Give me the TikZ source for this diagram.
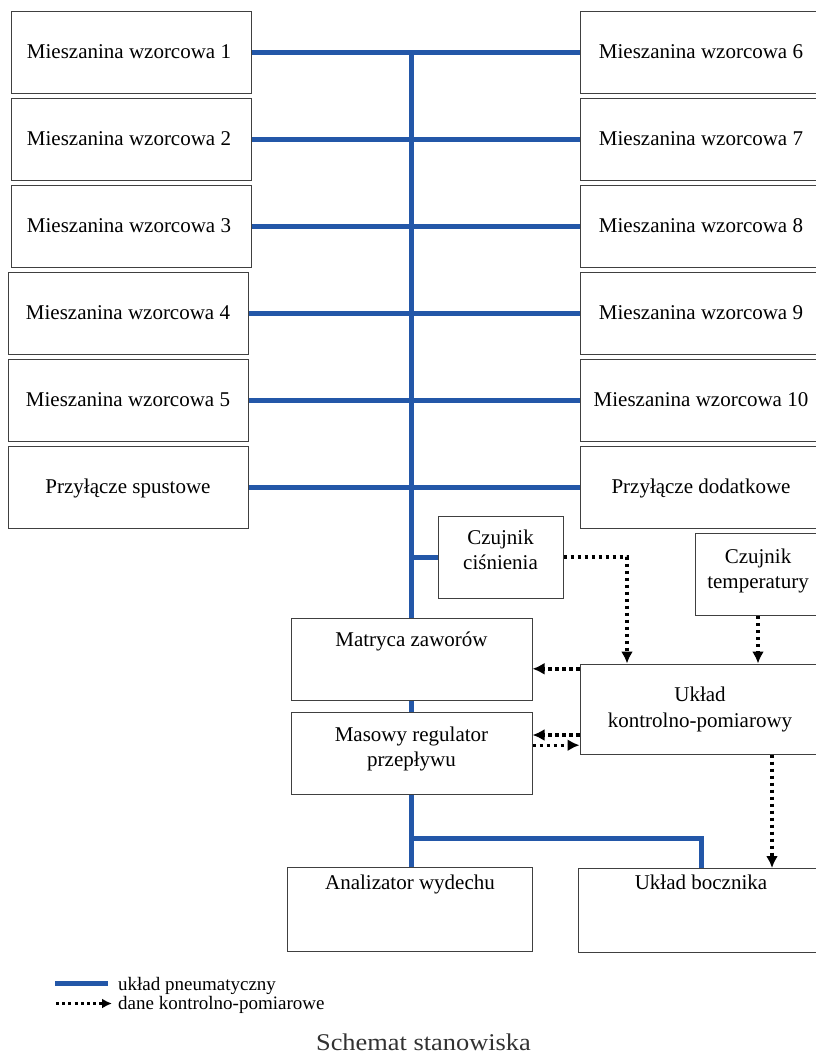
\documentclass[tikz,border=0pt]{standalone}
\usepackage{fontspec}
\setmainfont{Liberation Serif}
\newfontfamily\titlefont[FakeStretch=1.1]{Liberation Serif}
\usetikzlibrary{arrows.meta}
\definecolor{pneublue}{RGB}{35,87,168}
\definecolor{titlegray}{RGB}{50,50,50}

\begin{document}
\begin{tikzpicture}[x=1pt, y=1pt,
    box/.style={draw=black!75, line width=1pt, minimum width=240pt, minimum height=82pt, inner sep=0pt},
    txt/.style={anchor=base, inner sep=0pt, align=center, font=\fontsize{21}{25}\selectfont},
    legtxt/.style={anchor=base west, inner sep=0pt, font=\fontsize{19}{21}\selectfont},
    pneu/.style={draw=pneublue, line width=5pt},
    meas/.style={line width=3.4pt, dash pattern=on 3.4pt off 3.6pt, -{Latex[length=12pt,width=12pt]}}]

    \useasboundingbox (0,0) rectangle (816,-1057);



    \begin{scope}[yshift=-52.5pt]

      \node[box] (mix1) at (131,0) {};
      \node[txt] (mix1txt) at (129,-6) {Mieszanina wzorcowa 1};
      \node[box] (mix6) at (700,0) {};
      \node[txt] (mix6txt) at (701,-6) {Mieszanina wzorcowa 6};
      \draw[pneu] (mix1) -- (mix6);

    \end{scope}



    \begin{scope}[yshift=-139.5pt]

      \node[box] (mix2) at (131,0) {};
      \node[txt] (mix2txt) at (129,-6) {Mieszanina wzorcowa 2};
      \node[box] (mix7) at (700,0) {};
      \node[txt] (mix7txt) at (701,-6) {Mieszanina wzorcowa 7};
      \draw[pneu] (mix2) -- (mix7);

    \end{scope}



    \begin{scope}[yshift=-226.5pt]

      \node[box] (mix3) at (131,0) {};
      \node[txt] (mix3txt) at (129,-6) {Mieszanina wzorcowa 3};
      \node[box] (mix8) at (700,0) {};
      \node[txt] (mix8txt) at (701,-6) {Mieszanina wzorcowa 8};
      \draw[pneu] (mix3) -- (mix8);

    \end{scope}



    \begin{scope}[yshift=-313.5pt]

      \node[box] (mix4) at (128.5,0) {};
      \node[txt] (mix4txt) at (128,-6) {Mieszanina wzorcowa 4};
      \node[box] (mix9) at (700,0) {};
      \node[txt] (mix9txt) at (701,-6) {Mieszanina wzorcowa 9};
      \draw[pneu] (mix4) -- (mix9);

    \end{scope}



    \begin{scope}[yshift=-400.5pt]

      \node[box] (mix5) at (128.5,0) {};
      \node[txt] (mix5txt) at (128,-6) {Mieszanina wzorcowa 5};
      \node[box] (mix10) at (700,0) {};
      \node[txt] (mix10txt) at (701,-6) {Mieszanina wzorcowa 10};
      \draw[pneu] (mix5) -- (mix10);

    \end{scope}



    \begin{scope}[yshift=-487.5pt]

      \node[box] (drain) at (128.5,0) {};
      \node[txt] (draintxt) at (128,-6) {Przyłącze spustowe};
      \node[box] (extra) at (700,0) {};
      \node[txt] (extratxt) at (701,-6) {Przyłącze dodatkowe};
      \draw[pneu] (drain) -- (extra);

    \end{scope}




    \node[box, minimum width=125pt] (cisn) at (500.5,-557) {};
    \node[txt] (cisntxt) at ([yshift=-54pt]cisn.north) {Czujnik\\ciśnienia};

    \node[box, minimum width=125pt] (temp) at (758,-574.5) {};
    \node[txt] (temptxt) at ([yshift=-55.3pt]temp.north) {Czujnik\\temperatury};

    \node[box, minimum width=241pt] (matryca) at (411.5,-659.5) {};
    \node[txt] (matrycatxt) at ([yshift=-28pt]matryca.north) {Matryca zaworów};

    \node[box, minimum width=241pt] (masowy) at (411.5,-753) {};
    \node[txt] (masowytxt) at ([yshift=-54.5pt]masowy.north) {Masowy regulator\\przepływu};

    \node[box, minimum height=90pt] (ukl) at (700,-709) {};
    \node[txt, font=\fontsize{21}{26}\selectfont] (ukltxt) at ([yshift=-63.7pt]ukl.north) {Układ\\kontrolno-pomiarowy};

    \node[box, minimum width=245pt, minimum height=84pt] (analizator) at (410,-909.5) {};
    \node[txt] (analizatortxt) at ([yshift=-22pt]analizator.north) {Analizator wydechu};

    \node[box, minimum width=246pt, minimum height=84pt] (bocznik) at (701,-910.5) {};
    \node[txt] (bocznikxt) at ([yshift=-21.3pt]bocznik.north) {Układ bocznika};



    \draw[pneu] (mix1.east -| matryca.north) -- (matryca.north);
    \draw[pneu] (cisn.west) -- (cisn.west -| matryca.north);
    \draw[pneu] (matryca.south) -- (masowy.north);
    \draw[pneu] (masowy.south) -- (masowy.south |- analizator.north);
    \draw[pneu] ([yshift=-43.5pt]masowy.south) -| (bocznik.north);



    \draw[meas] (cisn.east) -| ([xshift=-73pt]ukl.north);
    \draw[meas] (temp.south) -- (temp.south |- ukl.north);
    \draw[meas] ([yshift=-5.3pt]ukl.north west) -- ([yshift=-5.3pt]ukl.north west -| matryca.east);
    \draw[meas] ([yshift=-26pt]ukl.west) -- ([yshift=-26pt]ukl.west -| masowy.east);
    \draw[meas] ([yshift=7.8pt]masowy.east) -- ([yshift=7.8pt]masowy.east -| ukl.west);
    \draw[meas] ([xshift=72pt]ukl.south) -- ([xshift=72pt]ukl.south |- bocznik.north);



    \coordinate (leg1a) at (55,-983.5);
    \coordinate (leg1b) at (108,-983.5);
    \draw[pneu] (leg1a) -- (leg1b);
    \node[legtxt] (leg1txt) at (118,-990) {układ pneumatyczny};

    \coordinate (leg2a) at (56,-1003.5);
    \coordinate (leg2b) at (112,-1003.5);
    \draw[meas, line width=3pt, dash pattern=on 3pt off 3.2pt, -{Latex[length=10pt,width=10pt]}] (leg2a) -- (leg2b);
    \node[legtxt] (leg2txt) at (118,-1009) {dane kontrolno-pomiarowe};

    \node[anchor=base, inner sep=0pt, text=titlegray, font=\titlefont\fontsize{24}{28}\selectfont] (title) at (423.5,-1050.7) {Schemat stanowiska};

  \end{tikzpicture}
\end{document}
